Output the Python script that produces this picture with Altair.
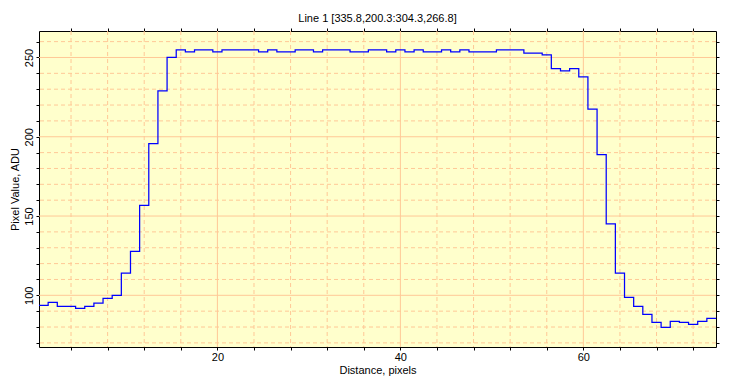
import altair as alt
import pandas as pd

# Sample positions along the profile (pixels) and the measured values (ADU)
distance_px = list(range(1, 75))
pixel_value = [
    93.7, 95.6, 93.1, 93.1, 91.8, 93.1, 95.0, 98.1, 100.0, 114.0,
    127.7, 156.7, 195.6, 229.0, 250.0, 254.8, 253.6, 254.8, 254.8, 253.6,
    254.8, 254.8, 254.8, 254.8, 253.6, 254.8, 253.6, 253.6, 254.8, 254.8,
    253.6, 254.8, 254.8, 254.8, 253.6, 253.6, 254.8, 254.8, 253.6, 254.8,
    253.6, 254.8, 253.6, 253.6, 254.8, 253.6, 254.8, 253.6, 253.6, 253.6,
    254.8, 254.8, 254.8, 252.7, 252.7, 251.7, 242.9, 241.6, 242.9, 237.8,
    217.5, 188.7, 145.0, 114.0, 98.7, 93.1, 88.0, 83.0, 79.8, 83.6,
    83.0, 81.7, 83.6, 85.5,
]

x_ticks = list(range(4, 75, 4))
x_major = [20, 40, 60]
x_minor = [v for v in x_ticks if v not in x_major]
y_ticks = list(range(70, 261, 10))
y_major = [100, 150, 200, 250]
y_minor = [v for v in y_ticks if v not in y_major]

title_text = "Line 1 [335.8,200.3:304.3,266.8]"
x_title = "Distance, pixels"
y_title = "Pixel Value, ADU"

# each sample drawn as a one-pixel-wide step
edges = [d - 0.5 for d in distance_px] + [distance_px[-1] + 0.5]
vals = pixel_value + [pixel_value[-1]]
df = pd.DataFrame({"x": edges, "y": vals})

FONT = "Liberation Sans"
GRID = "#FFC896"

xscale = alt.Scale(domain=[0.5, 74.5], nice=False, zero=False)
yscale = alt.Scale(domain=[67.4, 266.7], nice=False, zero=False)

minor_x = alt.Chart(pd.DataFrame({"x": x_minor})).mark_rule(
    color=GRID, strokeDash=[4, 3], strokeWidth=1
).encode(x=alt.X("x:Q", scale=xscale, axis=None))
minor_y = alt.Chart(pd.DataFrame({"y": y_minor})).mark_rule(
    color=GRID, strokeDash=[4, 3], strokeWidth=1
).encode(y=alt.Y("y:Q", scale=yscale, axis=None))
major_x = alt.Chart(pd.DataFrame({"x": x_major})).mark_rule(
    color=GRID, strokeWidth=1
).encode(x=alt.X("x:Q", scale=xscale, axis=None))
major_y = alt.Chart(pd.DataFrame({"y": y_major})).mark_rule(
    color=GRID, strokeWidth=1
).encode(y=alt.Y("y:Q", scale=yscale, axis=None))

common_axis = dict(
    domain=False, grid=False, tickSize=3, tickColor="black", tickWidth=1,
    labelFont=FONT, labelFontSize=11, labelColor="black",
    titleFont=FONT, titleFontSize=11, titleColor="black", titleFontWeight="normal",
    labelOverlap=False, labelFlush=False,
)

line = alt.Chart(df).mark_line(
    interpolate="step-after", color="#0000FF", strokeWidth=1.25
).encode(
    x=alt.X("x:Q", scale=xscale, axis=alt.Axis(
        orient="bottom", values=x_ticks, title=x_title,
        labelExpr="datum.value % 20 == 0 ? datum.label : ''",
        labelPadding=1, titlePadding=2, **common_axis)),
    y=alt.Y("y:Q", scale=yscale, axis=alt.Axis(
        orient="left", values=y_ticks, title=y_title,
        labelExpr="datum.value % 50 == 0 ? datum.label : ''",
        labelAngle=-90, labelAlign="center", labelBaseline="bottom",
        labelPadding=2, titlePadding=3, **common_axis)),
)

mirror = alt.Chart(df).mark_line(opacity=0).encode(
    x=alt.X("x:Q", scale=xscale, axis=alt.Axis(
        orient="top", values=x_ticks, labels=False, title=None, **common_axis)),
    y=alt.Y("y:Q", scale=yscale, axis=alt.Axis(
        orient="right", values=y_ticks, labels=False, title=None, **common_axis)),
)

chart = alt.layer(minor_x, minor_y, major_x, major_y, line, mirror).resolve_axis(
    x="independent", y="independent"
).properties(
    width=677, height=316,
    title=alt.Title(title_text, font=FONT, fontSize=11, fontWeight="normal",
                    color="black", offset=4, anchor="middle"),
    autosize=alt.AutoSizeParams(type="none"),
    padding={"left": 31, "top": 23, "right": 12, "bottom": 30},
    background="white",
).configure_view(
    fill="#FFFFCC", stroke="black", strokeWidth=1
)

chart.save("out.html", embed_options={"renderer": "svg", "actions": False})
